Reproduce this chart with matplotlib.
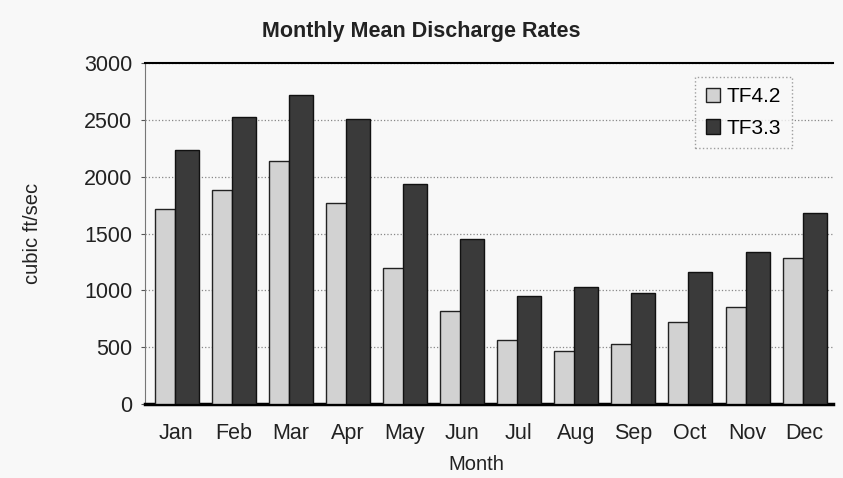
import matplotlib.pyplot as plt
import numpy as np

plt.rcParams['font.family'] = ['Liberation Sans', 'DejaVu Sans']

months = ['Jan', 'Feb', 'Mar', 'Apr', 'May', 'Jun',
          'Jul', 'Aug', 'Sep', 'Oct', 'Nov', 'Dec']
tf42 = [1715, 1880, 2135, 1765, 1195, 820, 565, 465, 530, 720, 855, 1285]
tf33 = [2235, 2525, 2720, 2505, 1935, 1450, 950, 1030, 975, 1160, 1335, 1680]

fig = plt.figure(figsize=(8.43, 4.78), dpi=100)
fig.patch.set_facecolor('#f8f8f8')
ax = fig.add_axes([0.1720, 0.1548, 0.8160, 0.7134])
ax.set_facecolor('#f8f8f8')

x = np.arange(len(months))
w = 0.36
ax.bar(x - w / 2 - 0.02, tf42, width=w, color='#d2d2d2', edgecolor='#222222',
       linewidth=1.0, label='TF4.2', zorder=3)
ax.bar(x + w / 2, tf33, width=w + 0.06, color='#3a3a3a', edgecolor='#111111',
       linewidth=1.0, label='TF3.3', zorder=3)

ax.set_xlim(-0.55, len(months) - 0.5)
ax.set_ylim(0, 3000)
ax.set_yticks(range(0, 3001, 500))
ax.set_xticks(x)
ax.set_xticklabels(months)
ax.tick_params(axis='both', labelsize=15.5, length=3, color='#555555',
               labelcolor='#222222')
ax.tick_params(axis='x', length=0, pad=14)
ax.tick_params(axis='y', pad=6)
ax.grid(axis='y', linestyle=':', color='#888888', linewidth=0.9, zorder=0)

ax.spines['right'].set_visible(False)
ax.spines['top'].set_linewidth(1.5)
ax.spines['bottom'].set_linewidth(2.5)
ax.spines['left'].set_color('#777777')

fig.text(0.5, 0.935, 'Monthly Mean Discharge Rates', fontsize=15.5,
         fontweight='bold', color='#222222', ha='center', va='center')
fig.text(0.565, 0.008, 'Month', fontsize=14.5, color='#222222',
         ha='center', va='bottom')
ax.set_ylabel('cubic ft/sec', fontsize=14.5, color='#222222', labelpad=30)

leg = ax.legend(loc='upper right', bbox_to_anchor=(0.955, 0.99), fontsize=15,
                frameon=True, fancybox=False, handlelength=0.7,
                handleheight=0.7, handletextpad=0.3, borderpad=0.5,
                labelspacing=0.6)
leg.get_frame().set_edgecolor('#888888')
leg.get_frame().set_linestyle(':')
leg.get_frame().set_facecolor('#f8f8f8')

fig.savefig('out.png', dpi=100, facecolor=fig.get_facecolor())
